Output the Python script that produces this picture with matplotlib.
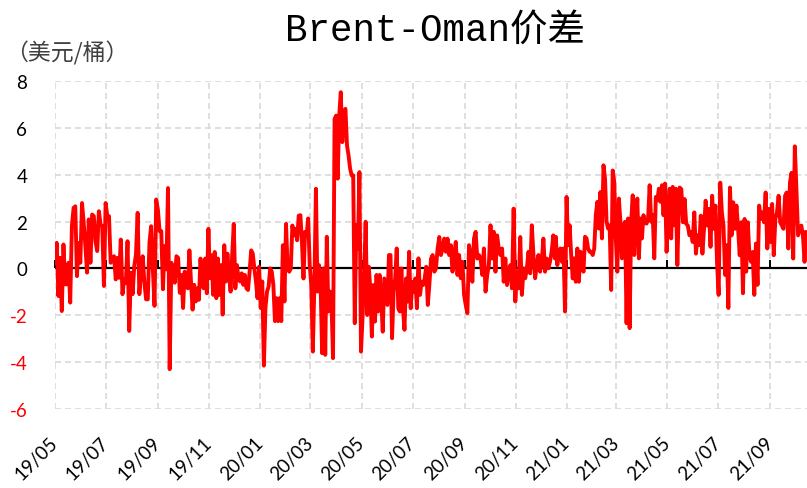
import matplotlib
matplotlib.use("Agg")
import matplotlib.pyplot as plt
import matplotlib.dates as mdates
import pandas as pd

plt.rcParams['font.family'] = ['Lato', 'Noto Sans CJK SC', 'DejaVu Sans']
plt.rcParams['axes.unicode_minus'] = False

# Brent-Oman spread, USD/bbl in six stretches
seg_dates = [
    ("2019-05-01", "2019-09-27"),
    ("2019-09-29", "2020-02-16"),
    ("2020-02-18", "2020-07-21"),
    ("2020-07-23", "2020-12-18"),
    ("2020-12-19", "2021-05-15"),
    ("2021-05-16", "2021-10-14"),
]

seg1 = [0.24, 1.09, -1.18, 0.45, -1.82, 1.02, -0.68, -0.68, 0.24, -1.46, 1.8, 2.58, 2.65, -0.33, 1.09,
        0.24, 2.79, 1.94, 0.95, -0.18, 2.09, 0.24, 2.3, 2.23, 1.16, 0.74, 2.44, 1.87, 1.8, -0.75,
        2.79, 2.23, 2.23, 0.24, 0.38, 0.52, -0.47, 0.45, -0.4, 1.23, -1.1, -0.47, -0.61, 1.16, -2.67,
        -0.18, -1.1, 0.1, 0.6, 2.37, -1.1, -0.18, 0.52, -0.61, -1.32, -1.32, 1.09, 1.8, -0.04, -1.6,
        2.94, 2.51, 1.59, 1.59, -0.89, 0.95, -0.04, 3.43, -4.3, 0.24, -0.04, -0.61, 0.52, 0.45, -1.04]
seg2 = [-0.28, -1.69, -0.14, -0.42, -0.85, 0.77, -0.56, -1.76, -0.7, -1.41, -0.85, -1.34, 0.42, -0.56,
        -0.85, 0.42, -1.06, 1.69, -0.42, 0.56, -1.13, 0.7, -1.27, 0.42, -1.13, 0.14, -1.97, 0.99, -0.56,
        0.63, -0.28, -0.99, 0.56, 1.9, -0.85, 0.14, -0.42, -0.56, -0.21, -0.7, -0.28, -0.85, -0.92,
        -0.14, 0.77, 0.63, 0.0, -0.56, -1.27, 0.07, -1.69, -0.56, -4.15, -1.69, -0.99, -0.77, 0.0,
        -0.14, -0.7, -2.25, -1.27, -2.25, -1.27, -2.25, 0.99, -1.41, 1.9, 0.0, -0.14, 0.0, 1.83, 1.41,
        1.69, 1.2, 2.25]
seg3 = [2.27, 1.13, -0.43, 1.56, 1.42, 2.13, 0.14, -0.71, -3.55, -0.71, 3.4, -0.99, 0.14, -0.71, -3.62,
        0.0, -3.69, 1.35, -1.84, -0.99, -1.42, -3.83, 6.38, 6.52, 3.83, 6.52, 7.52, 5.39, 6.67, 6.81,
        5.25, 4.82, 4.26, 3.97, 3.97, -2.34, 1.84, 0.85, 4.11, -3.55, -2.13, -0.43, 1.99, -1.99, 0.07,
        -0.85, -2.91, -0.71, -2.27, -0.28, -1.84, -0.28, -1.28, -2.7, -0.43, -0.99, -1.56, 0.57, 0.57,
        -2.98, -0.99, -0.43, 0.85, -1.7, -1.84, 0.0, -1.7, -2.62, -0.43, -1.42, 0.71, -1.7, -0.57,
        -0.99, -0.43, -1.7, 0.43, -1.13, -0.57, -0.71, -0.43, 0.07, -1.56, -0.71]
seg4 = [0.42, 0.57, -0.14, 0.0, 0.85, 1.34, 0.57, 0.85, 1.27, 0.71, 1.27, 0.57, 0.99, -0.14, 0.57, 1.13,
        -0.28, 0.57, -0.42, 0.28, -1.13, -1.56, -1.91, 0.99, 0.57, -0.57, 1.27, 1.56, 0.42, 0.57, 0.42,
        -0.28, 0.85, -0.99, -0.28, 0.14, 1.84, 0.42, 1.56, -0.14, 1.41, 0.85, 0.57, 0.85, -0.57, 0.42,
        -0.71, -0.14, 0.14, -0.85, 2.55, -1.41, -0.14, -0.85, 1.34, -1.13, 0.0, -0.42, 0.0, 0.71,
        -0.21, 1.84, 0.57, -0.42, 0.14, 0.57, -0.14, 0.28, 1.27, -0.14, 0.42, 0.0, 0.28, 0.71, 1.41, 0.42]
seg5 = [1.35, 0.14, 0.71, 0.85, 0.28, 0.85, -1.84, 3.05, 0.99, 1.84, 0.57, -0.43, 0.43, -0.57, 0.85,
        -0.57, 0.71, 0.43, -0.14, 1.35, 1.28, 0.85, 0.71, 0.71, 0.57, 0.85, 2.27, 2.84, 1.7, 3.26, 1.28,
        4.4, 3.83, 1.99, 1.7, 1.84, -0.92, 4.18, 3.69, 1.28, -0.14, 2.98, 1.99, 0.43, 1.84, 1.99, -2.34,
        2.13, -2.55, 1.99, 3.12, 0.57, 2.13, 2.98, 0.43, 2.13, 1.28, 2.27, 1.99, 1.91, 2.13, 3.55, 1.99,
        2.27, 0.43, 3.05, 2.91, 3.4, 2.84, 3.55, 2.27, 3.62, 0.71, 2.13, 3.4, 1.28, 3.48, 1.84, 3.4,
        0.14, 2.7]
seg6 = [3.45, 3.38, 1.97, 2.96, 1.9, 1.83, 1.41, 1.55, 1.13, 2.39, 0.63, 1.41, 0.99, 2.25, 0.63, 1.69,
        2.89, 1.83, 2.54, 0.92, 3.1, 1.69, 2.68, 0.28, -1.13, 3.66, 2.39, 1.83, -0.28, 0.99, -1.69, 3.45,
        1.41, 2.82, 1.69, 2.68, 1.69, 0.56, 1.97, -1.06, 2.11, -0.14, 1.97, 0.56, 0.28, 0.7, -1.13, 1.06,
        -0.7, 2.68, 2.11, 2.39, 1.97, 3.24, 0.85, 2.54, 1.13, 2.75, 0.56, 2.11, 2.39, 3.1, 1.97, 1.83,
        1.69, 3.1, 3.24, 0.85, 3.66, 4.08, 0.42, 5.21, 3.38, 1.41, 1.69, 1.83, 1.41, 0.28, 1.55]

segments = [seg1, seg2, seg3, seg4, seg5, seg6]
y_ticks = [-6, -4, -2, 0, 2, 4, 6, 8]
x_ticks = pd.date_range("2019-05-01", "2021-09-01", freq="2MS")

dates, values = [], []
for (d0, d1), seg in zip(seg_dates, segments):
    dates.extend(pd.date_range(d0, d1, periods=len(seg)))
    values.extend(seg)

fig = plt.figure(figsize=(8.07, 4.89), dpi=100)
ax = fig.add_axes([0.0682, 0.1616, 0.9318, 0.6708])

ax.axhline(0, color='black', lw=1.6, zorder=2)
# small upward tick marks on the zero line
ax.plot(x_ticks, [0] * len(x_ticks), ls='none', marker=2, ms=6, mew=1.4,
        color='black', zorder=2, clip_on=False)
ax.plot(dates, values, color='#ff0000', lw=2.8, zorder=3)

ax.set_xlim(pd.Timestamp("2019-05-01"), pd.Timestamp("2021-10-15"))
ax.set_ylim(-6, 8)
ax.set_yticks(y_ticks)
ax.set_xticks(x_ticks)
ax.xaxis.set_major_formatter(mdates.DateFormatter('%y/%m'))

ax.grid(True, color='#d9d9d9', lw=1.2, ls=(0, (3.6, 2.4)))
ax.set_axisbelow(True)
for s in ax.spines.values():
    s.set_visible(False)

ax.tick_params(axis='y', length=0, pad=20, labelsize=13.5)
ax.tick_params(axis='x', length=0, pad=22, labelsize=13.5)
for lab in ax.get_xticklabels():
    lab.set_rotation(45)
    lab.set_ha('right')
    lab.set_va('center')
    lab.set_rotation_mode('anchor')
for lab, v in zip(ax.get_yticklabels(), y_ticks):
    if v < 0:
        lab.set_color('#ff0000')

fig.text(0.539, 0.937, 'Brent-Oman价差', ha='center', va='center', fontsize=27,
         family=['Liberation Mono', 'Noto Sans CJK SC'])
fig.text(0.006, 0.89, '（美元/桶）', ha='left', va='center', fontsize=16.5, color='#404040',
         family=['Noto Sans CJK SC', 'DejaVu Sans'])

fig.savefig('out.png', dpi=100)
